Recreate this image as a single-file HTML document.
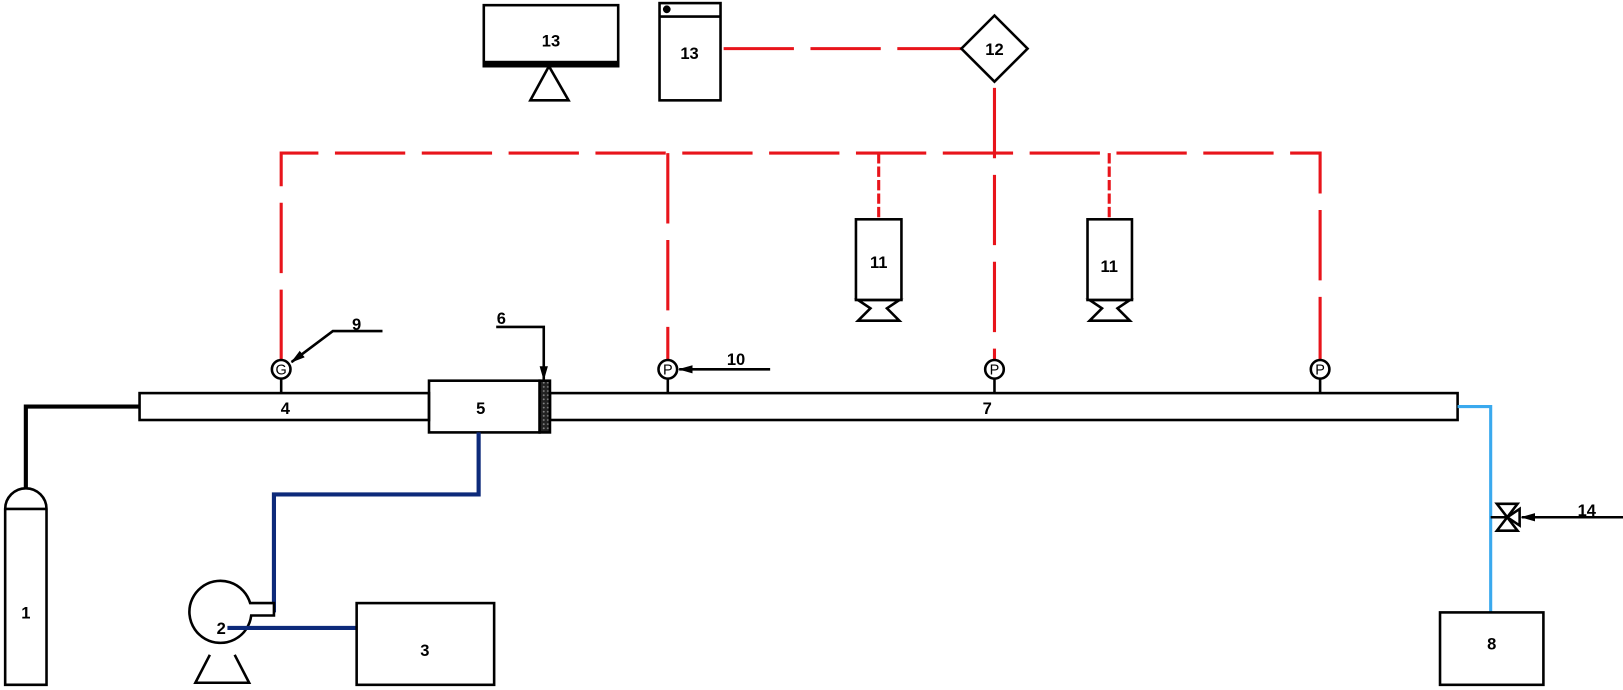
<!DOCTYPE html>
<html><head><meta charset="utf-8"><style>
html,body{margin:0;padding:0;background:#fff}
svg{display:block}
text{font-family:"Liberation Sans",sans-serif;font-weight:bold;font-size:16px;text-anchor:middle}
</style></head><body>
<svg width="1623" height="690" viewBox="0 0 1570 667" preserveAspectRatio="none" xmlns="http://www.w3.org/2000/svg">
<defs>
<marker id="ah" markerWidth="14" markerHeight="8" refX="13" refY="4" orient="auto" markerUnits="userSpaceOnUse">
<path d="M0,0 L14,4 L0,8 z" fill="#000"/></marker>
<pattern id="dots" width="4" height="4" patternUnits="userSpaceOnUse"><rect width="4" height="4" fill="#222"/><circle cx="2" cy="2" r="0.9" fill="#888"/></pattern>
</defs>
<g fill="none" stroke="#000" stroke-width="2.5">
<g stroke="#e8141b" stroke-width="3" stroke-dasharray="68 16">
<path d="M272,348 V148 H1277 V348"/>
<path d="M646,148 V348"/>
<path d="M962,85 V348"/>
<path d="M850,148 V212" stroke-dasharray="10 3"/>
<path d="M1073,148 V212" stroke-dasharray="10 3"/>
<path d="M700,47 H930"/>
</g>
<path d="M5,662 V492 A20,20 0 0 1 45,492 V662 Z"/>
<line x1="5" y1="492" x2="45" y2="492"/>
<path d="M25,472 V393 H135" stroke-width="4"/>
<rect x="135" y="380" width="280" height="26"/>
<rect x="415" y="368" width="107" height="50"/>
<rect x="522" y="368" width="10" height="50" fill="url(#dots)"/>
<rect x="532" y="380" width="878" height="26"/>
<path d="M463,418 V478 H265 V590 H258" stroke="#0d2a7a" stroke-width="4"/>
<path d="M265,583 H242 A30,30 0 1 0 243,595 H265 Z" fill="#fff"/>
<path d="M203,633 L189,660 H241 L227,633"/>
<path d="M220,607 H345" stroke="#0d2a7a" stroke-width="4"/>
<rect x="345" y="583" width="133" height="79"/>
<line x1="272" y1="366" x2="272" y2="380"/>
<circle cx="272" cy="357" r="9" stroke-width="2.5"/>
<line x1="646" y1="366" x2="646" y2="380"/>
<circle cx="646" cy="357" r="9" stroke-width="2.5"/>
<line x1="962" y1="366" x2="962" y2="380"/>
<circle cx="962" cy="357" r="9" stroke-width="2.5"/>
<line x1="1277" y1="366" x2="1277" y2="380"/>
<circle cx="1277" cy="357" r="9" stroke-width="2.5"/>
<path d="M370,320 H322 L282,350" marker-end="url(#ah)"/>
<path d="M480,316 H526 V367" marker-end="url(#ah)"/>
<path d="M745,357 H657" marker-end="url(#ah)"/>
<rect x="828" y="212" width="44" height="78"/>
<path d="M830,290 H870 L858,298 L870,310 H830 L842,298 Z"/>
<rect x="1052" y="212" width="43" height="78"/>
<path d="M1054,290 H1093 L1081,298 L1093,310 H1054 L1066,298 Z"/>
<path d="M962,15 L994,47 L962,79 L930,47 Z" stroke-width="2.5"/>
<rect x="468" y="5" width="130" height="57"/>
<rect x="468" y="60" width="130" height="4" fill="#000"/>
<path d="M531,64 L513,97 H550 Z"/>
<rect x="638" y="3" width="59" height="94"/>
<line x1="638" y1="16" x2="697" y2="16"/>
<circle cx="645" cy="9" r="2.5" fill="#000"/>
<path d="M1410,393 H1442 V592" stroke="#3aa9ee" stroke-width="3"/>
<path d="M1448,487 H1468 L1448,513 H1468 Z"/>
<path d="M1458,500 L1470,492 V508 Z"/>
<line x1="1442" y1="500" x2="1458" y2="500"/>
<path d="M1623,500 H1472" marker-end="url(#ah)"/>
<rect x="1393" y="592" width="100" height="70"/>
</g>
<g fill="#000">
<text x="25" y="598">1</text>
<text x="214" y="613">2</text>
<text x="411" y="634">3</text>
<text x="276" y="400">4</text>
<text x="465" y="400">5</text>
<text x="485" y="313">6</text>
<text x="955" y="400">7</text>
<text x="1443" y="628">8</text>
<text x="345" y="319">9</text>
<text x="712" y="353">10</text>
<text x="850" y="259">11</text>
<text x="1073" y="263">11</text>
<text x="962" y="53">12</text>
<text x="533" y="45">13</text>
<text x="667" y="57">13</text>
<text x="1535" y="499">14</text>
<text x="272" y="362" style="font-size:14px;font-weight:normal">G</text>
<text x="646" y="362" style="font-size:14px;font-weight:normal">P</text>
<text x="962" y="362" style="font-size:14px;font-weight:normal">P</text>
<text x="1277" y="362" style="font-size:14px;font-weight:normal">P</text>
</g>
</svg>
</body></html>
